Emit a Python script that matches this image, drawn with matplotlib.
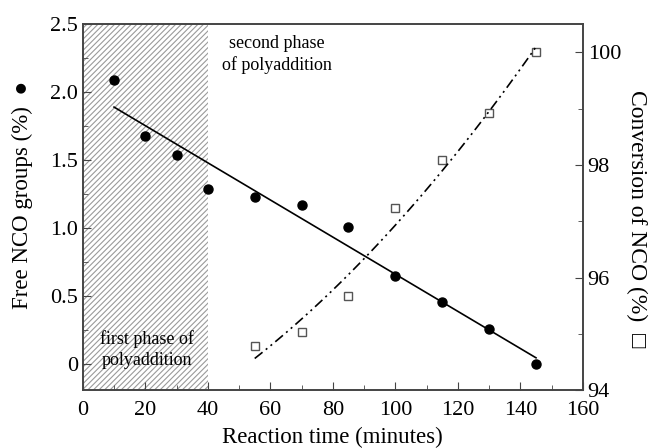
import numpy as np
import matplotlib
matplotlib.use("Agg")
import matplotlib.pyplot as plt

plt.rcParams['font.family'] = ['Liberation Serif', 'DejaVu Sans']
plt.rcParams['hatch.color'] = '#9a9a9a'
plt.rcParams['hatch.linewidth'] = 0.8

# free NCO groups (%), left axis
time_nco = [10, 20, 30, 40, 55, 70, 85, 100, 115, 130, 145]
free_nco = [2.09, 1.68, 1.54, 1.29, 1.23, 1.17, 1.01, 0.65, 0.46, 0.26, 0.0]

# conversion of NCO (%), right axis
time_conv = [55, 70, 85, 100, 115, 130, 145]
conversion = [94.79, 95.04, 95.68, 97.23, 98.09, 98.93, 100.0]

first_phase_end = 40

fig = plt.figure(figsize=(6.52, 4.48), dpi=100)
ax = fig.add_axes([0.127, 0.129, 0.767, 0.817])

ax.axvspan(0, first_phase_end, facecolor='white', edgecolor='#9a9a9a',
           hatch='//////', linewidth=0, zorder=0)

ax.plot(time_nco, free_nco, 'o', color='black', markersize=6.5, zorder=3)
fit = np.polyfit(time_nco, free_nco, 1)
xs = np.array([time_nco[0], time_nco[-1]])
ax.plot(xs, np.polyval(fit, xs), '-', color='black', linewidth=1.2)

ax.set_xlim(0, 160)
ax.set_ylim(-0.19, 2.5)
ax.set_xticks(range(0, 161, 20))
ax.set_xticks(range(0, 161, 10), minor=True)
ax.set_yticks([0, 0.5, 1.0, 1.5, 2.0, 2.5])
ax.set_yticklabels(['0', '0.5', '1.0', '1.5', '2.0', '2.5'])
ax.set_yticks(np.arange(0, 2.51, 0.25), minor=True)
ax.tick_params(which='both', direction='in', top=False, right=False,
               labelsize=16, color='#444444')
ax.tick_params(axis='x', pad=8)
ax.tick_params(which='major', length=6)
ax.tick_params(which='minor', length=3.5)
ax.set_xlabel('Reaction time (minutes)', fontsize=16.5, va='center')
ax.xaxis.set_label_coords(0.5, -0.128)
ax.set_ylabel('Free NCO groups (%)  ●', fontsize=16.5, va='center')
ax.yaxis.set_label_coords(-0.12, 0.535)

ax2 = ax.twinx()
ax2.plot(time_conv, conversion, 's', markerfacecolor='white',
         markeredgecolor='#555555', markersize=6, markeredgewidth=1.0)
qfit = np.polyfit(time_conv, conversion, 2)
xc = np.linspace(time_conv[0], time_conv[-1], 100)
ax2.plot(xc, np.polyval(qfit, xc), color='black', linewidth=1.2,
         linestyle=(0, (6, 2.5, 1.2, 2.5, 1.2, 2.5)))
ax2.set_ylim(94, 100.5)
ax2.set_yticks([94, 96, 98, 100])
ax2.set_yticks([95, 97, 99], minor=True)
ax2.tick_params(which='both', direction='in', labelsize=16, color='#444444')
ax2.tick_params(which='major', length=6)
ax2.tick_params(which='minor', length=3.5)
ax2.set_ylabel('Conversion of NCO (%)  □', fontsize=17, rotation=-90,
               va='center')
ax2.yaxis.set_label_coords(1.108, 0.47)

for a in (ax, ax2):
    for s in a.spines.values():
        s.set_color('#444444')
        s.set_linewidth(1.2)

ax.text(62, 2.28, 'second phase\nof polyaddition', fontsize=13,
        ha='center', va='center', linespacing=1.3)
ax.text(20.5, 0.11, 'first phase of\npolyaddition', fontsize=13,
        ha='center', va='center', linespacing=1.3)

fig.savefig('out.png', dpi=100)
